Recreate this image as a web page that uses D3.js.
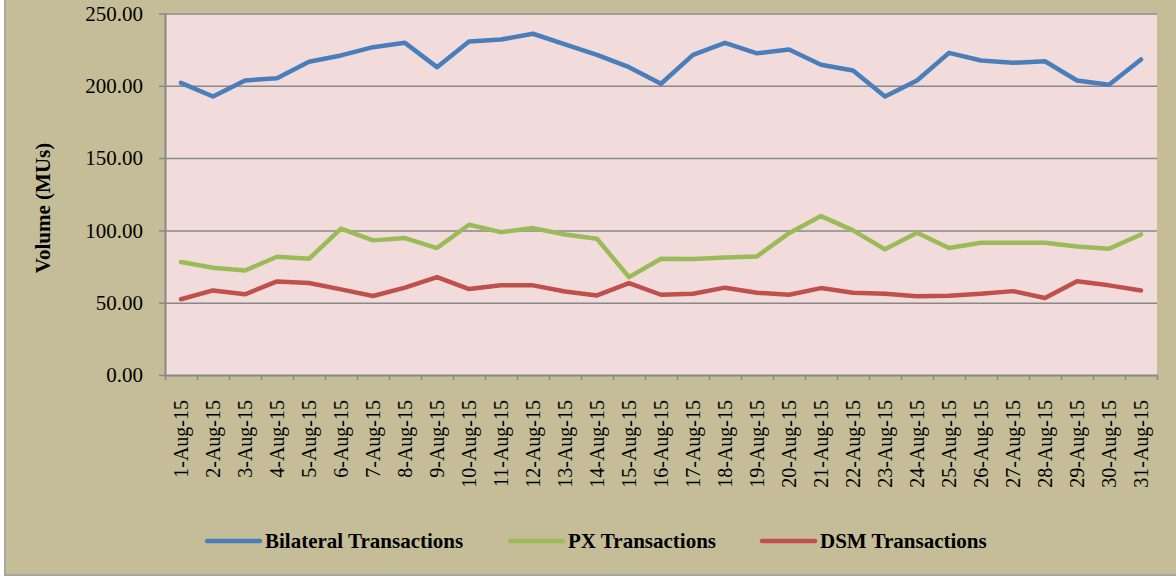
<!DOCTYPE html>
<html>
<head>
<meta charset="utf-8">
<script src="https://cdn.jsdelivr.net/npm/d3@7"></script>
<style>
  html, body { margin: 0; padding: 0; background: #ffffff; }
  svg { display: block; }
</style>
</head>
<body>
<script>
// day labels on the x axis
const days = d3.range(1, 32).map(d => `${d}-Aug-15`);

// volumes in MUs
const bilateral = [202, 192.6, 203.7, 205.3, 216.6, 221, 226.7, 229.7, 212.9, 230.6,
  232, 236, 228.6, 221.4, 212.9, 201.4, 221.4, 229.7, 222.5, 225.1,
  214.5, 210.6, 192.6, 203.7, 222.8, 217.5, 215.9, 217, 203.7, 200.7, 218.2];
const px = [78.1, 74.2, 72.3, 81.8, 80.4, 101.2, 93.1, 94.7, 87.8, 103.9,
  98.8, 101.6, 97.2, 94.2, 67.7, 80.4, 80.2, 81.3, 82, 98.1,
  109.9, 100, 86.9, 98.4, 87.8, 91.5, 91.5, 91.5, 88.9, 87.3, 97.2];
const dsm = [52.4, 58.5, 55.8, 64.7, 63.6, 59.2, 54.6, 60.4, 67.7, 59.4,
  62, 62, 57.8, 55, 63.6, 55.5, 56.2, 60.4, 56.9, 55.5,
  60.1, 56.9, 56.2, 54.4, 54.8, 56.2, 58, 53.3, 64.9, 62, 58.5];

const yTicks = [0, 50, 100, 150, 200, 250];

const seriesNames = ["Bilateral Transactions", "PX Transactions", "DSM Transactions"];
const seriesColors = ["#4a7ebb", "#9bbb59", "#c0504d"];
const seriesValues = [bilateral, px, dsm];

const width = 1176;
const height = 576;
const marginLeft = 165;
const marginRight = 19;
const marginTop = 13.5;
const plotBottom = 375;
const font = "'Liberation Serif', 'Times New Roman', serif";
const gridColor = "#888888";

const svg = d3.select("body").append("svg")
    .attr("width", width)
    .attr("height", height)
    .attr("viewBox", [0, 0, width, height]);

// chart background with a frame on the left and bottom
svg.append("rect")
    .attr("x", 5)
    .attr("y", -10)
    .attr("width", width + 20)
    .attr("height", 585)
    .attr("fill", "#c4bd97")
    .attr("stroke", "#a5a5a5")
    .attr("stroke-width", 2);

const x = d3.scaleBand()
    .domain(days)
    .range([marginLeft, width - marginRight])
    .padding(0);

const y = d3.scaleLinear()
    .domain([0, 250])
    .range([plotBottom, marginTop]);

// plot area
svg.append("rect")
    .attr("x", marginLeft)
    .attr("y", marginTop)
    .attr("width", x.range()[1] - marginLeft)
    .attr("height", plotBottom - marginTop)
    .attr("fill", "#f2dcdb");

// horizontal grid lines
svg.append("g")
    .attr("transform", `translate(${marginLeft},0)`)
    .call(d3.axisLeft(y).tickValues(yTicks.filter(d => d > 0))
        .tickSize(-(x.range()[1] - marginLeft)).tickFormat(""))
    .call(g => g.select(".domain").remove())
    .call(g => g.selectAll("line").attr("stroke", gridColor).attr("stroke-width", 1.5));

// y axis
svg.append("g")
    .attr("transform", `translate(${marginLeft},0)`)
    .call(d3.axisLeft(y).tickValues(yTicks).tickFormat(d3.format(".2f"))
        .tickSize(6).tickPadding(16).tickSizeOuter(0))
    .call(g => g.select(".domain").attr("stroke", gridColor).attr("stroke-width", 2))
    .call(g => g.selectAll("line").attr("stroke", gridColor).attr("stroke-width", 1.5))
    .call(g => g.selectAll("text")
        .attr("fill", "#000")
        .style("font-family", font)
        .style("font-size", "21px"));

// x axis: tick marks fall between the days
const edges = d3.scaleLinear().domain([0, days.length]).range(x.range());
svg.append("g")
    .attr("transform", `translate(0,${plotBottom})`)
    .call(d3.axisBottom(edges).tickValues(d3.range(0, days.length + 1))
        .tickSize(5).tickFormat("").tickSizeOuter(0))
    .call(g => g.select(".domain").attr("stroke", gridColor).attr("stroke-width", 2))
    .call(g => g.selectAll("line").attr("stroke", gridColor).attr("stroke-width", 1.5));

// x labels, rotated
svg.append("g")
    .attr("transform", `translate(0,${plotBottom})`)
    .call(d3.axisBottom(x).tickSize(0).tickPadding(0))
    .call(g => g.select(".domain").remove())
    .call(g => g.selectAll("text")
        .attr("fill", "#000")
        .attr("y", 0)
        .attr("dy", "0.35em")
        .attr("transform", "translate(0,25) rotate(-90)")
        .attr("text-anchor", "end")
        .style("font-family", font)
        .style("font-size", "20px"));

// y title
svg.append("text")
    .attr("transform", "translate(43,208) rotate(-90)")
    .attr("text-anchor", "middle")
    .attr("dy", "0.35em")
    .style("font-family", font)
    .style("font-size", "21px")
    .style("font-weight", "bold")
    .text("Volume (MUs)");

// lines
const line = d3.line()
    .x((d, i) => x(days[i]) + x.bandwidth() / 2)
    .y(d => y(d));

seriesValues.forEach((vals, k) => {
    svg.append("path")
        .datum(vals)
        .attr("fill", "none")
        .attr("stroke", seriesColors[k])
        .attr("stroke-width", 4.5)
        .attr("stroke-linejoin", "round")
        .attr("stroke-linecap", "round")
        .attr("d", line);
});

// legend
const legendX = [207, 510, 762];
const legend = svg.append("g").attr("transform", "translate(0,541)");
seriesNames.forEach((name, k) => {
    legend.append("line")
        .attr("x1", legendX[k])
        .attr("x2", legendX[k] + 53)
        .attr("stroke", seriesColors[k])
        .attr("stroke-width", 4.5)
        .attr("stroke-linecap", "round");
    legend.append("text")
        .attr("x", legendX[k] + 58)
        .attr("dy", "0.35em")
        .style("font-family", font)
        .style("font-size", "21px")
        .style("font-weight", "bold")
        .text(name);
});
</script>
</body>
</html>
